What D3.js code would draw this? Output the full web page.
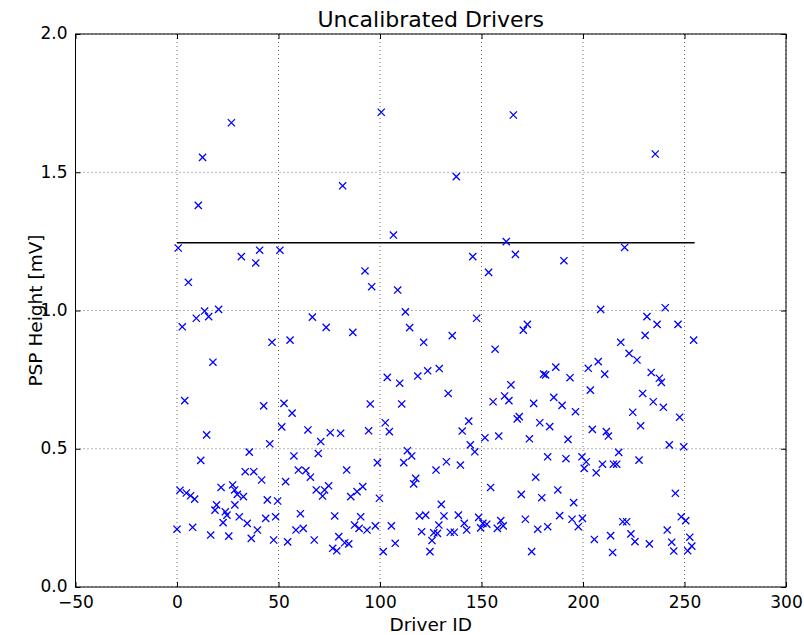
<!DOCTYPE html>
<html><head><meta charset="utf-8">
<script src="https://cdn.jsdelivr.net/npm/d3@7"></script>
<style>body{margin:0;background:#fff}svg{display:block}text{font-family:"DejaVu Sans",sans-serif}</style>
</head><body><div id="chart"></div>
<script>
const driverIds = [26.8,12.6,10.5,0.6,5.6,2.6,9.5,13.6,15.6,20.5,17.7,3.8,14.6,11.7,1.5,4.6,6.7,8.7,0,7.7,16.6,25.5,21.7,27.4,28.4,19.5,18.7,23.8,24.6,22.7,28.5,
31.7,40.7,38.8,50.7,46.8,55.7,42.7,52.7,56.7,51.6,45.7,35.6,57.6,59.8,33.6,37.8,41.7,53.5,29.7,32.7,44.5,49.6,30.7,34.6,43.7,48.6,39.6,36.6,47.6,54.5,60.8,58.6,
81.6,92.6,95.9,66.7,73.5,86.6,95.2,64.5,70.8,75.5,80.6,94.4,69.6,63.5,65.7,83.6,68.6,74.7,72.7,71.7,91.5,88.7,85.6,62.2,77.7,67.6,79.7,76.7,78.7,82.6,84.6,87.5,90.5,89.7,93.6,
100.6,106.6,108.7,112.5,114.6,121.5,103.6,109.7,118.6,123.5,110.7,102.6,104.6,113.5,115.6,98.7,111.7,117.6,116.6,127.6,99.7,119.4,122.5,105.6,97.7,120.5,126.5,128.3,125.6,107.5,101.6,124.6,
137.6,145.7,153.5,162.2,147.6,135.6,156.7,129.2,133.6,155.7,161.4,143.7,140.5,151.7,158.5,144.5,146.7,132.7,139.6,154.5,130.2,131.5,138.6,141.5,142.7,129.0,134.6,136.6,148.6,149.6,150.7,152.6,159.5,157.8,160.7,
165.7,166.7,190.6,170.6,172.6,186.6,180.6,181.6,193.6,164.5,163.5,175.7,185.6,189.7,196.3,168.6,167.6,178.7,183.6,173.6,192.6,182.6,191.6,176.7,169.6,179.7,187.6,195.4,171.6,177.7,182.6,188.5,194.6,174.7,
220.5,208.7,218.6,222.7,226.6,202.6,207.5,210.7,203.6,229.4,224.5,228.4,204.6,211.5,212.5,217.6,227.6,199.5,201.6,200.6,206.5,209.6,215.0,216.6,199.7,197.7,205.6,213.6,214.6,219.6,221.5,223.6,225.6,
235.6,240.5,231.5,246.8,236.5,254.5,230.6,233.6,237.6,238.6,234.6,239.6,247.6,242.5,249.6,245.5,248.4,250.6,241.5,252.6,232.7,243.7,244.7,253.6,251.6];
const pspHeights = [1.679,1.554,1.380,1.226,1.102,0.941,0.972,0.998,0.978,1.004,0.813,0.674,0.55,0.458,0.35,0.34,0.33,0.318,0.209,0.216,0.188,0.184,0.360,0.369,0.351,0.297,0.278,0.272,0.260,0.233,0.297,
1.195,1.218,1.172,1.218,0.885,0.893,0.655,0.664,0.629,0.579,0.518,0.488,0.474,0.423,0.417,0.417,0.387,0.381,0.335,0.327,0.315,0.311,0.254,0.230,0.248,0.254,0.206,0.176,0.170,0.163,0.265,0.206,
1.451,1.143,1.086,0.976,0.939,0.921,0.662,0.568,0.526,0.558,0.556,0.565,0.483,0.421,0.397,0.423,0.351,0.366,0.351,0.329,0.363,0.345,0.327,0.212,0.257,0.170,0.182,0.140,0.131,0.160,0.156,0.224,0.254,0.212,0.206,
1.717,1.273,1.074,0.995,0.938,0.885,0.758,0.737,0.763,0.782,0.662,0.594,0.562,0.493,0.474,0.450,0.450,0.393,0.373,0.423,0.321,0.257,0.260,0.221,0.221,0.200,0.196,0.194,0.168,0.158,0.128,0.128,
1.484,1.195,1.138,1.249,0.972,0.909,0.860,0.790,0.700,0.670,0.691,0.600,0.564,0.540,0.546,0.514,0.489,0.453,0.441,0.360,0.299,0.257,0.260,0.230,0.206,0.224,0.198,0.198,0.252,0.214,0.230,0.227,0.240,0.212,0.221,
1.707,1.203,1.180,0.929,0.950,0.795,0.770,0.767,0.757,0.731,0.674,0.664,0.686,0.657,0.634,0.616,0.608,0.594,0.580,0.536,0.534,0.471,0.464,0.397,0.335,0.323,0.351,0.305,0.245,0.209,0.218,0.258,0.245,0.128,
1.228,1.004,0.885,0.845,0.821,0.791,0.815,0.770,0.712,0.700,0.632,0.583,0.570,0.562,0.546,0.487,0.459,0.471,0.453,0.429,0.413,0.444,0.444,0.444,0.248,0.218,0.172,0.186,0.125,0.236,0.236,0.192,0.164,
1.566,1.010,0.978,0.95,0.950,0.893,0.91,0.776,0.755,0.740,0.670,0.650,0.614,0.514,0.507,0.339,0.254,0.240,0.206,0.180,0.156,0.162,0.130,0.148,0.131];
const thresholdLine = {x0: 0, x1: 255, y: 1.245};
const xTicks = [-50,0,50,100,150,200,250,300];
const yTicks = [0,0.5,1.0,1.5,2.0];

const W = 804, H = 635;
const svg = d3.select("#chart").append("svg").attr("width", W).attr("height", H);
const x = d3.scaleLinear().domain([-50,300]).range([75.5,786]);
const y = d3.scaleLinear().domain([0,2]).range([587,34]);

// grid
const g = svg.append("g");
g.selectAll(".gx").data(xTicks).join("line")
  .attr("x1", d=>x(d)).attr("x2", d=>x(d)).attr("y1", y(0)).attr("y2", y(2))
  .attr("stroke","#000").attr("stroke-width",0.6).attr("stroke-dasharray","1,3");
g.selectAll(".gy").data(yTicks).join("line")
  .attr("x1", x(-50)).attr("x2", x(300)).attr("y1", d=>y(d)).attr("y2", d=>y(d))
  .attr("stroke","#000").attr("stroke-width",0.6).attr("stroke-dasharray","1,3");

// threshold line
svg.append("line").attr("x1", x(thresholdLine.x0)).attr("x2", x(thresholdLine.x1))
  .attr("y1", y(thresholdLine.y)).attr("y2", y(thresholdLine.y))
  .attr("stroke","#000").attr("stroke-width",1.5);

// points
const pts = driverIds.map((d,i)=>[d, pspHeights[i]]);
const s = 3.6;
svg.append("g").selectAll("path").data(pts).join("path")
  .attr("d", d=>{const cx=x(d[0]), cy=y(d[1]);
    return `M${cx-s},${cy-s}L${cx+s},${cy+s}M${cx-s},${cy+s}L${cx+s},${cy-s}`;})
  .attr("stroke","#0000ff").attr("stroke-width",1.3).attr("fill","none");

// axes (inward ticks all sides)
const fmtY = d3.format(".1f");
const axB = d3.axisBottom(x).tickValues(xTicks).tickSizeInner(-5).tickSizeOuter(0).tickPadding(9);
const axT = d3.axisTop(x).tickValues(xTicks).tickSizeInner(-5).tickSizeOuter(0).tickFormat("");
const axL = d3.axisLeft(y).tickValues(yTicks).tickSizeInner(-5).tickSizeOuter(0).tickPadding(8).tickFormat(fmtY);
const axR = d3.axisRight(y).tickValues(yTicks).tickSizeInner(-5).tickSizeOuter(0).tickFormat("");
function style(sel){ sel.select(".domain").remove(); sel.selectAll("line").attr("stroke","#000");
  sel.selectAll("text").attr("font-size","17px").attr("fill","#000").attr("font-family","DejaVu Sans"); }
svg.append("g").attr("transform",`translate(0,${y(0)})`).call(axB).call(style);
svg.append("g").attr("transform",`translate(0,${y(2)})`).call(axT).call(style);
const gl = svg.append("g").attr("transform",`translate(${x(-50)},0)`).call(axL).call(style);
gl.selectAll("text").attr("dy","0.28em");
svg.append("g").attr("transform",`translate(${x(300)},0)`).call(axR).call(style);

// frame
svg.append("rect").attr("x", x(-50)).attr("y", y(2)).attr("width", x(300)-x(-50)).attr("height", y(0)-y(2))
  .attr("fill","none").attr("stroke","#000").attr("stroke-width",1);

// labels
svg.append("text").attr("x", (x(-50)+x(300))/2).attr("y", 27).attr("text-anchor","middle")
  .attr("font-size","22px").text("Uncalibrated Drivers");
svg.append("text").attr("x", (x(-50)+x(300))/2).attr("y", 631).attr("text-anchor","middle")
  .attr("font-size","18.5px").text("Driver ID");
svg.append("text").attr("transform", `translate(42,${(y(0)+y(2))/2}) rotate(-90)`).attr("text-anchor","middle")
  .attr("font-size","18.5px").text("PSP Height [mV]");
</script></body></html>
